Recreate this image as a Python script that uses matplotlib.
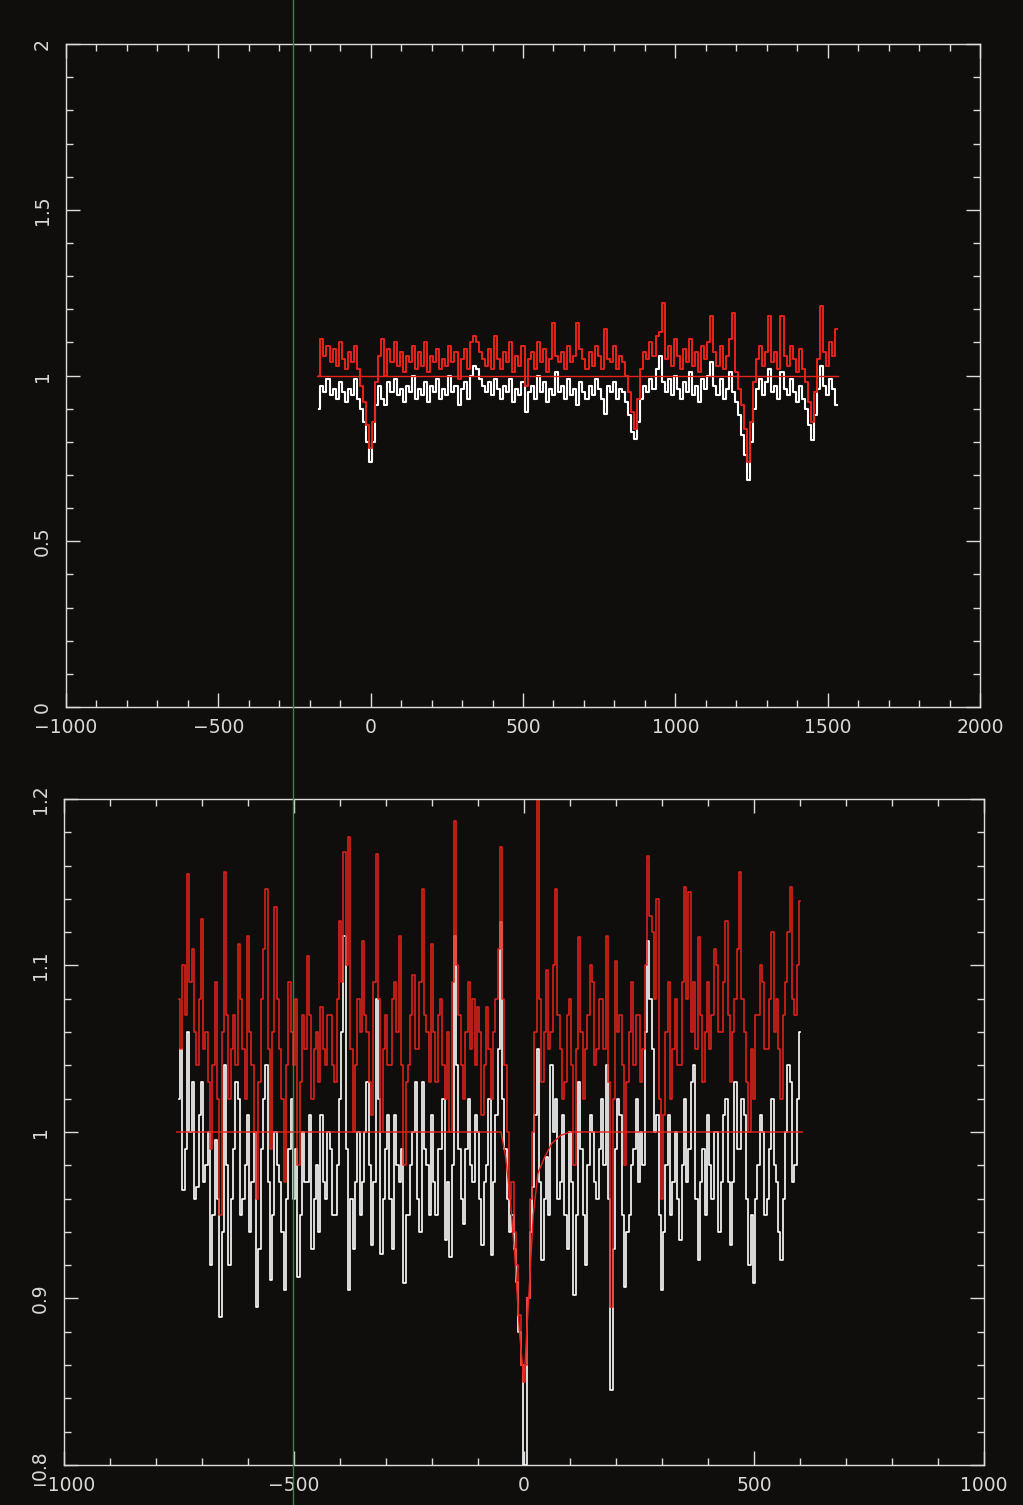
import matplotlib
matplotlib.use("Agg")
import matplotlib.pyplot as plt
import matplotlib.transforms as mtransforms
from matplotlib.ticker import MultipleLocator, FuncFormatter
import numpy as np

# ---- top panel: full spectrum (bin centres every 10 units) ----
top_v = np.arange(-170, 1531, 10)
top_white = [
    0.90, 0.97, 0.95, 0.99, 0.94, 0.96, 0.93, 0.98, 0.95, 0.92,
    0.96, 0.94, 0.99, 0.93, 0.90, 0.86, 0.80, 0.74, 0.80, 0.91,
    0.97, 0.93, 0.91, 0.98, 0.95, 0.99, 0.94, 0.96, 0.92, 0.97,
    0.95, 1.00, 0.93, 0.96, 0.94, 0.98, 0.92, 0.97, 0.95, 0.99,
    0.93, 0.96, 0.94, 1.00, 0.95, 0.97, 0.91, 0.96, 0.98, 0.93,
    1.00, 1.03, 1.02, 0.99, 0.97, 0.95, 0.98, 0.94, 0.99, 0.96,
    0.93, 0.97, 0.95, 0.99, 0.92, 0.96, 0.94, 0.98, 0.89, 0.95,
    0.97, 0.93, 1.00, 0.95, 0.98, 0.92, 0.96, 0.94, 1.01, 0.95,
    0.97, 0.93, 0.99, 0.94, 0.96, 0.91, 0.98, 0.95, 0.93, 0.97,
    0.94, 0.99, 0.96, 0.93, 0.885, 0.97, 0.95, 0.98, 0.93, 0.96,
    0.95, 0.92, 0.88, 0.83, 0.81, 0.86, 0.93, 0.97, 0.95, 0.99,
    0.96, 1.02, 1.06, 0.98, 0.95, 0.99, 0.94, 1.00, 0.96, 0.93,
    0.98, 0.95, 1.01, 0.94, 0.97, 0.92, 0.99, 0.96, 1.00, 1.04,
    0.97, 0.94, 0.99, 0.93, 0.96, 1.01, 0.95, 0.92, 0.88, 0.82,
    0.76, 0.685, 0.80, 0.90, 0.96, 0.99, 0.94, 0.98, 1.02, 0.95,
    0.97, 0.93, 1.01, 0.96, 0.94, 0.99, 0.95, 0.92, 0.97, 0.93,
    0.90, 0.85, 0.805, 0.88, 0.96, 1.03, 0.97, 0.94, 0.99, 0.96,
    0.91,
]
top_red = [
    1.00, 1.11, 1.06, 1.09, 1.04, 1.08, 1.03, 1.10, 1.05, 1.02,
    1.07, 1.04, 1.09, 1.02, 0.97, 0.92, 0.85, 0.78, 0.86, 0.98,
    1.06, 1.11, 1.00, 1.08, 1.04, 1.10, 1.03, 1.07, 1.01, 1.06,
    1.04, 1.09, 1.02, 1.07, 1.03, 1.10, 1.01, 1.06, 1.04, 1.08,
    1.02, 1.05, 1.03, 1.09, 1.04, 1.07, 0.99, 1.05, 1.08, 1.02,
    1.10, 1.12, 1.10, 1.07, 1.05, 1.03, 1.08, 1.02, 1.12, 1.05,
    1.02, 1.07, 1.04, 1.10, 1.01, 1.06, 1.03, 1.09, 0.97, 1.05,
    1.07, 1.02, 1.10, 1.04, 1.08, 1.01, 1.05, 1.16, 1.06, 1.04,
    1.07, 1.02, 1.09, 1.04, 1.06, 1.16, 1.08, 1.05, 1.02, 1.07,
    1.03, 1.09, 1.06, 1.02, 1.14, 1.05, 1.04, 1.09, 1.02, 1.06,
    1.04, 1.00, 0.95, 0.89, 0.84, 0.93, 1.02, 1.07, 1.05, 1.10,
    1.06, 1.12, 1.13, 1.22, 1.05, 1.09, 1.03, 1.11, 1.06, 1.02,
    1.08, 1.04, 1.11, 1.03, 1.07, 1.01, 1.09, 1.05, 1.10, 1.18,
    1.07, 1.03, 1.09, 1.02, 1.06, 1.11, 1.19, 1.01, 0.96, 0.91,
    0.84, 0.74, 0.86, 0.98, 1.05, 1.09, 1.03, 1.07, 1.18, 1.04,
    1.07, 1.02, 1.18, 1.06, 1.03, 1.09, 1.05, 1.01, 1.08, 1.02,
    0.98, 0.92, 0.86, 0.95, 1.05, 1.21, 1.07, 1.03, 1.10, 1.06,
    1.14,
]
top_cont_v = [-175, 1535]
top_cont = [1.0, 1.0]

# ---- bottom panel: zoom on the line at 0 (bin centres every 5 units) ----
bot_v = np.arange(-750, 601, 5)
bot_white = [
    1.02, 1.05, 0.965, 0.99, 1.06, 1.00, 1.03, 0.96, 0.967, 1.01,
    1.03, 0.97, 0.98, 1.00, 0.92, 0.95, 0.995, 0.96, 0.889, 0.94,
    1.04, 0.98, 0.92, 0.96, 0.99, 1.03, 1.02, 0.95, 0.96, 0.98,
    1.01, 0.94, 0.97, 1.00, 0.895, 0.93, 0.99, 1.02, 1.04, 0.97,
    0.911, 0.95, 1.00, 0.98, 0.97, 0.94, 0.905, 0.96, 0.99, 1.02,
    0.96, 0.99, 0.913, 0.95, 1.00, 0.97, 0.97, 1.01, 0.93, 0.96,
    0.98, 0.94, 1.01, 0.97, 0.96, 1.00, 0.99, 0.95, 0.95, 0.98,
    1.02, 1.06, 1.118, 0.99, 0.905, 0.96, 0.93, 0.97, 1.00, 0.95,
    0.97, 1.00, 1.03, 0.98, 0.932, 0.97, 1.08, 1.02, 0.927, 0.96,
    0.99, 1.01, 0.96, 0.93, 1.01, 0.98, 0.97, 0.99, 0.909, 0.95,
    0.95, 0.98, 1.00, 1.03, 0.96, 0.94, 1.03, 0.99, 0.98, 0.95,
    1.01, 0.97, 0.95, 0.99, 0.99, 1.02, 0.935, 0.97, 0.925, 0.98,
    1.118, 1.04, 0.99, 0.96, 0.945, 0.99, 1.02, 0.98, 0.97, 1.01,
    1.00, 0.96, 0.932, 0.97, 0.98, 1.02, 0.926, 0.97, 1.01, 1.05,
    1.126, 1.02, 0.99, 0.96, 0.94, 0.95, 0.93, 0.91, 0.88, 0.86,
    0.80, 0.80, 0.90, 0.94, 0.967, 1.01, 1.05, 0.97, 0.923, 0.96,
    0.985, 0.95, 1.04, 1.00, 1.02, 0.96, 0.97, 1.01, 0.95, 0.93,
    1.00, 0.97, 0.902, 0.95, 1.03, 0.99, 0.95, 0.92, 0.98, 1.01,
    1.00, 0.97, 0.96, 0.99, 1.02, 0.98, 1.04, 0.96, 0.845, 0.93,
    0.99, 1.02, 1.01, 0.95, 0.907, 0.94, 0.95, 0.98, 0.99, 1.02,
    0.97, 1.00, 0.98, 1.06, 1.115, 1.08, 1.05, 1.00, 1.01, 0.95,
    0.905, 0.94, 0.98, 1.01, 0.95, 0.97, 1.00, 0.96, 0.935, 0.98,
    1.02, 0.97, 0.99, 1.03, 1.04, 0.96, 0.923, 0.97, 0.99, 0.95,
    1.01, 0.98, 0.96, 1.00, 1.00, 0.94, 0.97, 1.01, 1.02, 0.97,
    0.932, 0.97, 1.03, 0.99, 0.99, 1.02, 1.01, 0.96, 0.92, 0.95,
    0.909, 0.96, 0.98, 1.01, 1.00, 0.95, 0.96, 0.99, 1.02, 0.98,
    0.97, 0.94, 0.923, 0.96, 1.00, 1.04, 1.03, 0.97, 0.98, 1.02,
    1.06,
]
bot_red = [
    1.08, 1.05, 1.10, 1.07, 1.155, 1.09, 1.11, 1.06, 1.04, 1.08,
    1.128, 1.05, 1.06, 1.03, 0.99, 1.04, 1.09, 1.02, 0.95, 1.06,
    1.156, 1.07, 1.02, 1.05, 1.07, 1.04, 1.113, 1.08, 1.05, 1.02,
    1.118, 1.06, 1.04, 1.00, 0.96, 1.03, 1.08, 1.11, 1.146, 1.05,
    0.99, 1.06, 1.135, 1.08, 1.05, 1.02, 0.97, 1.04, 1.09, 1.06,
    1.04, 1.08, 0.98, 1.03, 1.07, 1.05, 1.106, 1.07, 1.02, 1.05,
    1.06, 1.03, 1.075, 1.05, 1.04, 1.07, 1.07, 1.04, 1.03, 1.08,
    1.127, 1.09, 1.168, 1.10, 1.177, 1.05, 1.00, 1.04, 1.08, 1.06,
    1.115, 1.07, 1.06, 1.03, 1.01, 1.09, 1.167, 1.08, 1.00, 1.05,
    1.07, 1.04, 1.04, 1.08, 1.09, 1.06, 1.118, 1.04, 0.98, 1.03,
    1.04, 1.07, 1.094, 1.05, 1.05, 1.09, 1.146, 1.07, 1.06, 1.03,
    1.113, 1.06, 1.03, 1.07, 1.08, 1.04, 1.02, 1.06, 1.00, 1.09,
    1.187, 1.10, 1.07, 1.04, 1.02, 1.06, 1.09, 1.05, 1.08, 1.04,
    1.075, 1.06, 1.01, 1.04, 1.075, 1.05, 1.02, 1.06, 1.08, 1.11,
    1.171, 1.08, 1.04, 1.00, 0.96, 0.97, 0.94, 0.92, 0.89, 0.86,
    0.85, 0.86, 0.90, 0.96, 1.00, 1.06, 1.20, 1.08, 1.03, 1.06,
    1.097, 1.05, 1.06, 1.10, 1.146, 1.07, 1.05, 1.02, 1.03, 1.07,
    1.08, 1.04, 0.98, 1.05, 1.117, 1.06, 1.02, 1.05, 1.07, 1.10,
    1.09, 1.04, 1.05, 1.08, 1.08, 1.05, 1.118, 1.03, 0.895, 1.02,
    1.103, 1.06, 1.07, 1.04, 0.98, 1.03, 1.06, 1.09, 1.04, 1.07,
    1.07, 1.03, 1.05, 1.10, 1.166, 1.13, 1.12, 1.08, 1.14, 1.02,
    0.96, 1.01, 1.06, 1.09, 1.02, 1.05, 1.08, 1.04, 1.04, 1.09,
    1.147, 1.08, 1.144, 1.06, 1.09, 1.05, 1.117, 1.07, 1.03, 1.06,
    1.09, 1.05, 1.07, 1.11, 1.10, 1.06, 1.06, 1.09, 1.127, 1.07,
    1.03, 1.06, 1.08, 1.11, 1.156, 1.08, 1.06, 1.03, 1.00, 1.05,
    1.02, 1.07, 1.07, 1.10, 1.09, 1.05, 1.05, 1.08, 1.12, 1.06,
    1.08, 1.05, 1.02, 1.07, 1.09, 1.12, 1.147, 1.08, 1.07, 1.10,
    1.139,
]
# fitted profile (continuum with absorption at 0)
bot_model_v = [-755, -50, -40, -30, -20, -10, 0, 10, 20, 30, 45, 60, 80, 100, 605]
bot_model = [1.0, 1.0, 0.985, 0.96, 0.925, 0.88, 0.85, 0.90, 0.95, 0.975, 0.985, 0.993, 0.998, 1.0, 1.0]

marker_v = -255  # green reference line, in top-panel units

bg = "#0f0e0c"
fg = "#dcdcdc"
txt = "#d8d8d8"
red = "#e8221a"

fig = plt.figure(figsize=(10.23, 15.05), dpi=100, facecolor=bg)
ax1 = fig.add_axes([0.0645, 0.5302, 0.8935, 0.4405], facecolor=bg)
ax2 = fig.add_axes([0.0626, 0.0266, 0.8993, 0.4425], facecolor=bg)

ax1.step(top_v, top_white, where="mid", color="white", lw=1.5)
ax1.step(top_v, top_red, where="mid", color=red, lw=1.4)
ax1.plot(top_cont_v, top_cont, color=red, lw=1.0)
ax1.set_xlim(-1000, 2000)
ax1.set_ylim(0, 2)
ax1.xaxis.set_major_locator(MultipleLocator(500))
ax1.xaxis.set_minor_locator(MultipleLocator(100))
ax1.yaxis.set_major_locator(MultipleLocator(0.5))
ax1.yaxis.set_minor_locator(MultipleLocator(0.1))

ax2.step(bot_v, bot_white, where="mid", color="white", lw=1.2)
ax2.step(bot_v, bot_red, where="mid", color=red, lw=1.1)
ax2.plot(bot_model_v, bot_model, color=red, lw=1.0)
ax2.set_xlim(-1000, 1000)
ax2.set_ylim(0.8, 1.2)
ax2.xaxis.set_major_locator(MultipleLocator(500))
ax2.xaxis.set_minor_locator(MultipleLocator(100))
ax2.yaxis.set_major_locator(MultipleLocator(0.1))
ax2.yaxis.set_minor_locator(MultipleLocator(0.02))

for ax in (ax1, ax2):
    for s in ax.spines.values():
        s.set_color(fg)
        s.set_linewidth(1.0)
    ax.tick_params(which="both", direction="in", top=True, right=True,
                   color=fg, width=1.0, labelcolor=txt, labelsize=13.5)
    ax.tick_params(which="major", length=10)
    ax.tick_params(which="minor", length=5)
    ax.tick_params(axis="x", pad=8)
    ax.tick_params(axis="y", pad=10)
    ax.yaxis.set_major_formatter(FuncFormatter(lambda v, p: f"{v:g}"))
    for lab in ax.get_yticklabels():
        lab.set_rotation(90)
        lab.set_va("center")

# green reference line across the whole page
trans = mtransforms.blended_transform_factory(ax1.transData, fig.transFigure)
fig.add_artist(plt.Line2D([marker_v, marker_v], [0, 1], transform=trans,
                          color="#229a22", lw=1.0, zorder=10))

fig.savefig("out.png", dpi=100, facecolor=bg)
